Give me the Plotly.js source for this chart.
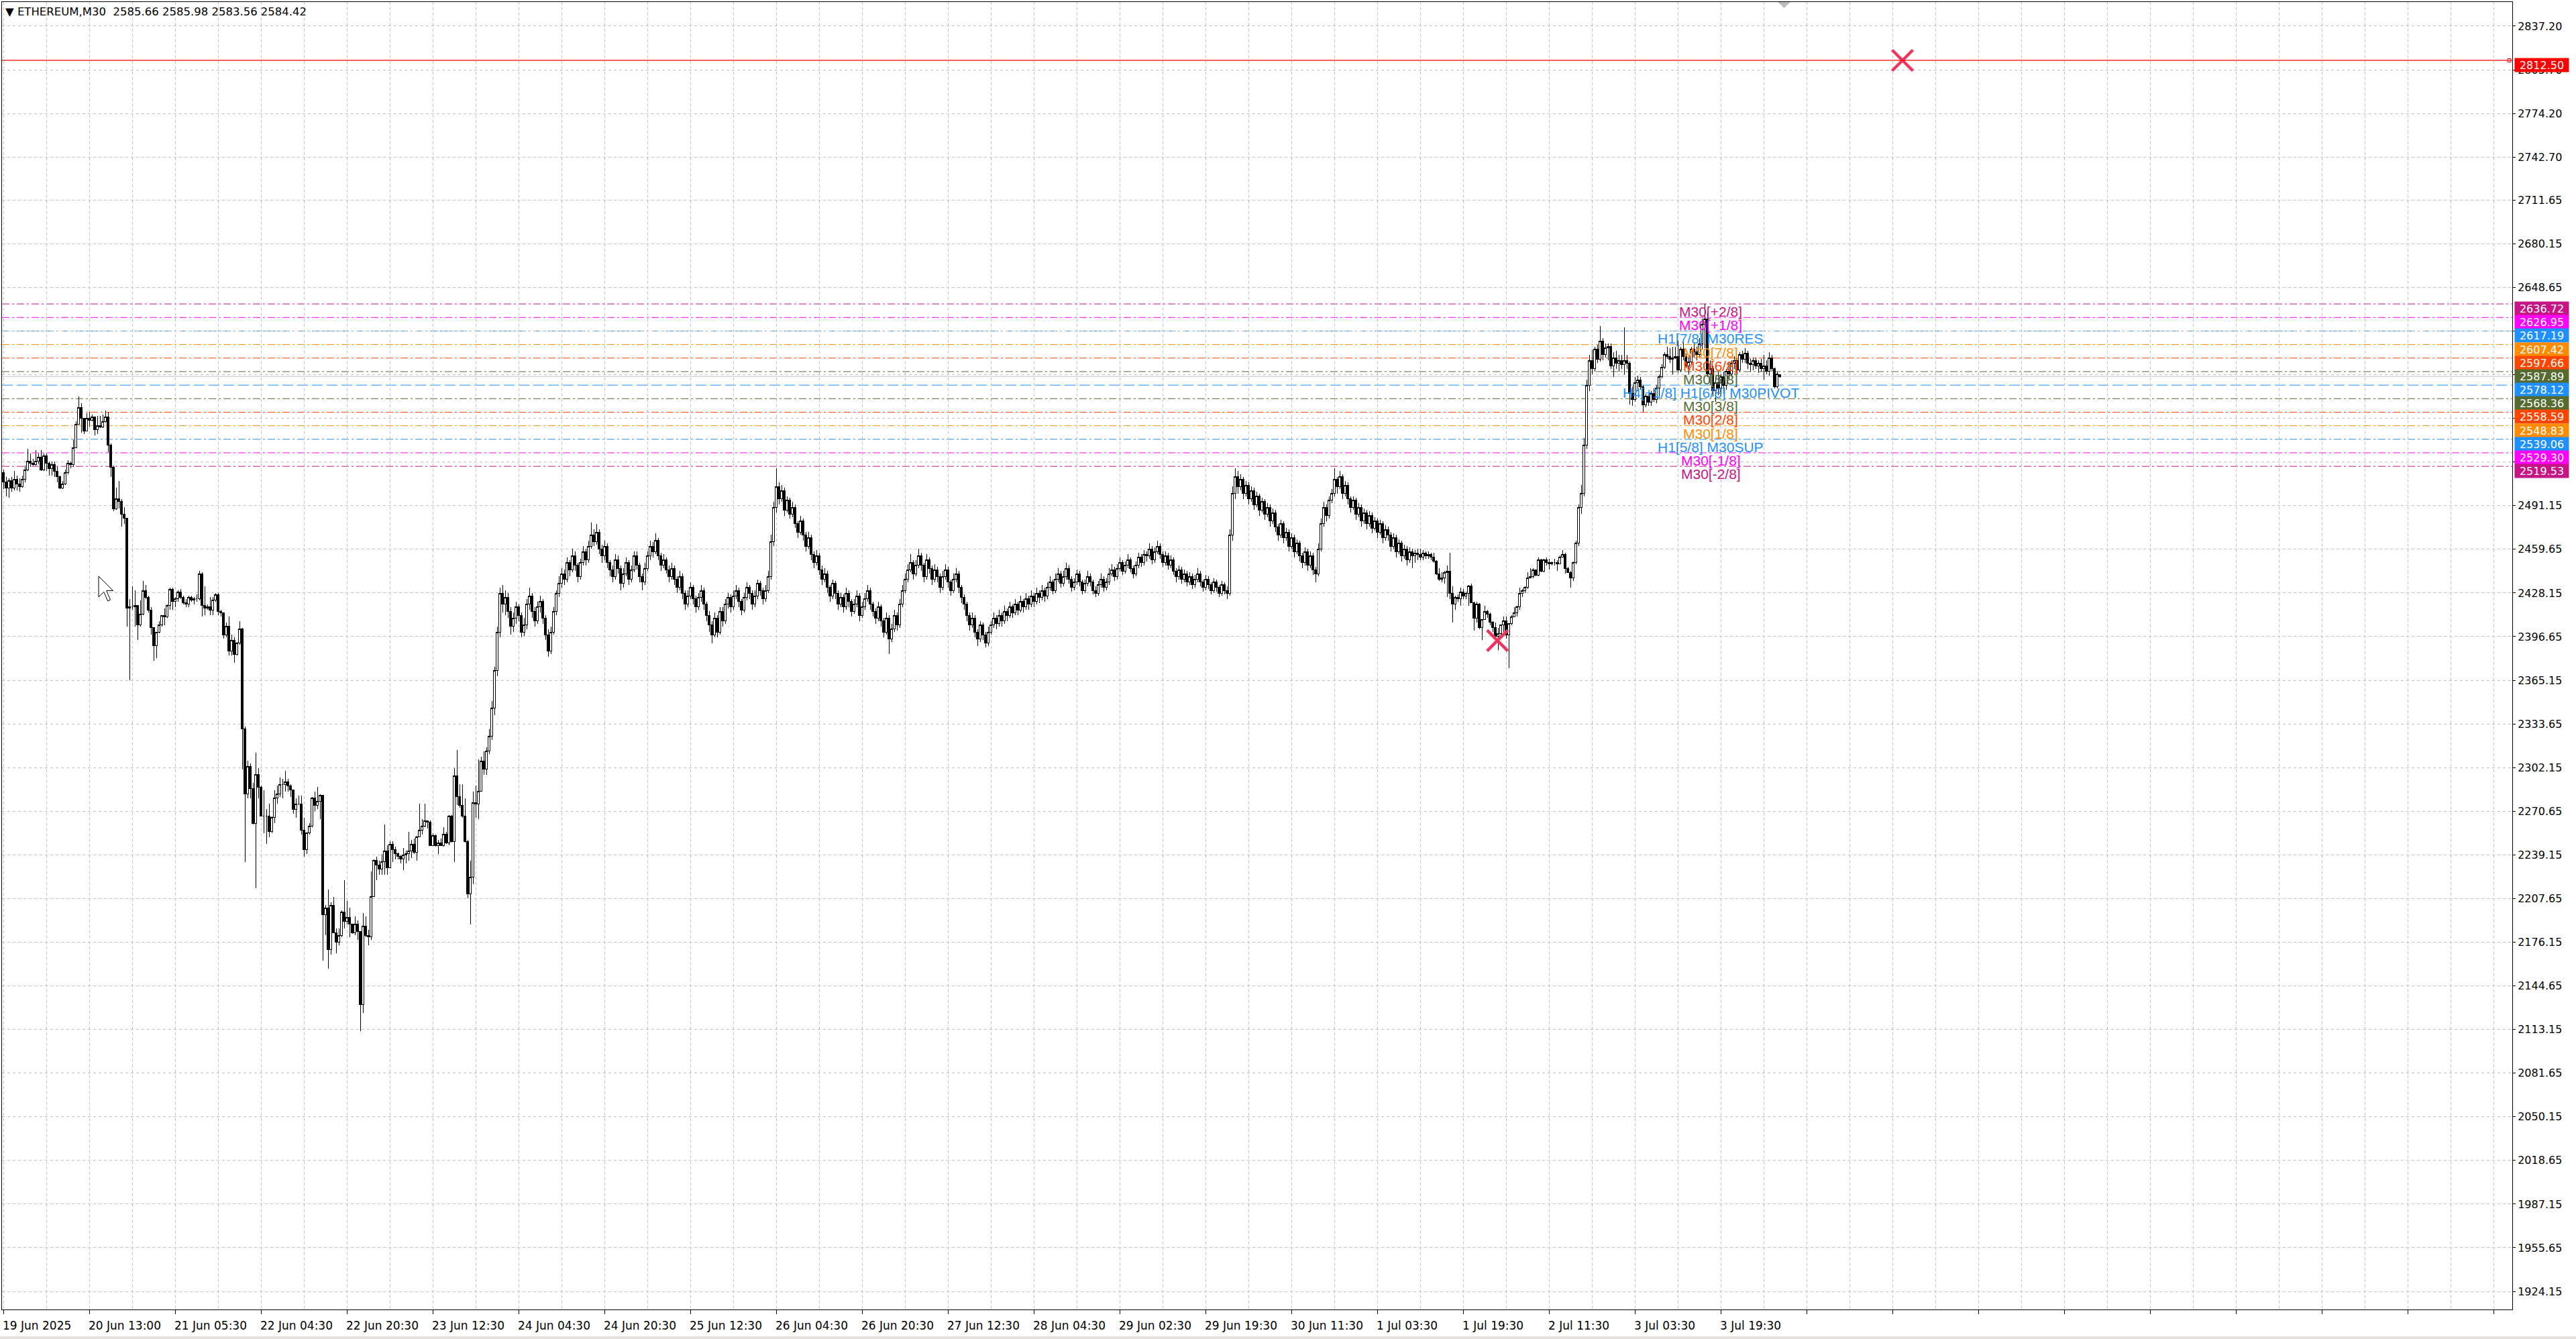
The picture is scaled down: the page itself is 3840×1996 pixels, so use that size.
<!DOCTYPE html>
<html><head><meta charset="utf-8">
<script src="https://cdn.plot.ly/plotly-3.0.1.min.js"></script>
<style>html,body{margin:0;padding:0;background:#fff;}#chart{width:3840px;height:1996px;}
#chart .boxlayer path{shape-rendering:crispEdges;}</style>
</head><body><div id="chart"></div>
<script>
// ===== ETHEREUM M30 candles (bar index = position on the chart) =====
const open = [
2515,2508,2504,2509,2504,2510,2507,2505,2510,2517,2523,2522,2521,2523,2526,2517,2527,2522,2518,2521,
2516,2512,2504,2507,2515,2522,2521,2533,2550,2562,2554,2545,2554,2553,2555,2546,2549,2548,2552,2555,
2535,2519,2489,2496,2494,2485,2482,2417,2418,2418,2419,2405,2413,2430,2425,2416,2403,2390,2400,2405,
2412,2411,2419,2431,2422,2424,2429,2425,2421,2420,2425,2423,2424,2424,2442,2419,2417,2418,2416,2423,
2427,2415,2414,2398,2404,2386,2394,2384,2392,2402,2330,
2283,2303,2287,2262,2297,2288,2267,2267,2267,2256,2266,2280,2283,2290,2290,2292,2289,2286,2272,2276,
2276,2257,2243,2255,2260,2280,2275,2278,2282,2196,2201,2171,2203,2183,2176,2181,2198,2191,2194,2189,
2183,2189,2184,2131,2188,2181,2180,2209,2235,2232,2229,2234,2242,2230,2247,2243,2240,2238,2236,2239,
2240,2242,2247,2241,2252,2257,2260,2264,2263,2246,2253,2246,2248,2246,2254,2248,2267,2249,2296,2281,
2275,2267,2249,2211,2223,2277,2276,2285,2307,2301,2314,
2325,2345,2372,2400,2428,2420,2425,2415,2404,2410,2418,2412,2400,2405,2420,2426,2415,2408,2418,2422,
2410,2398,2386,2400,2415,2428,2435,2442,2438,2450,2445,2455,2448,2440,2450,2458,2452,2462,2470,2465,
2472,2460,2455,2462,2450,2445,2440,2452,2446,2435,2442,2450,2438,2445,2455,2448,2440,2436,2446,2455,
2462,2458,2466,2455,2448,2452,2445,2440,2446,2438,2432,2440,2428,2420,2426,2432,2424,2418,2425,2430,
2420,2412,2405,2398,2410,2400,2415,2408,2420,2425,2418,2426,2430,2422,2416,2425,2432,2428,2420,2426,
2435,2430,2424,2430,2440,2465,2490,2505,2496,2502,2488,2495,2485,2490,2478,2472,2480,2470,2462,2468,
2456,2450,2455,2445,2438,2442,2432,2426,2435,2428,2420,2425,2418,2428,2422,2415,2420,2426,2412,2418,
2424,2430,2420,2415,2410,2418,2408,2400,2410,2395,2402,2412,2405,2420,2430,2438,2445,2450,2442,2448,
2455,2448,2440,2452,2446,2438,2445,2440,2432,2440,2445,2436,2430,2438,2442,2432,2425,2420,2412,2405,
2410,2400,2395,2405,2398,2392,2400,2405,2410,2406,2412,2408,2415,2412,2418,2414,2420,2416,2422,2418,
2424,2420,2426,2422,2428,2425,2430,2426,2432,2436,2430,2438,2442,2435,2440,2446,2438,2432,2436,2442,
2436,2430,2435,2440,2436,2430,2428,2434,2438,2432,2436,2442,2445,2440,2446,2450,2444,2448,2452,2446,
2442,2448,2454,2450,2456,2455,2460,2452,2458,2462,2456,2450,2455,2448,2452,2444,2440,2445,2438,2442,
2436,2440,2434,2438,2442,2436,2432,2438,2434,2430,2436,2432,2428,2434,2430,2428,2470,2500,2512,2505,
2510,2500,2506,2496,2502,2492,2498,2488,2494,2485,2490,2480,2486,2476,2470,2478,2468,2472,2462,2468,
2458,2464,2455,2450,2458,2448,2455,2445,2442,2460,2478,2490,2484,2495,2500,2510,2505,2512,2500,2506,
2496,2490,2495,2485,2490,2480,2486,2478,2484,2475,2480,2472,2478,2468,2474,2470,2462,2468,2458,2464,
2455,2460,2452,
2458,2455,2457,2456,2454,2457,2455,2456,2454,2451,2442,2438,2439,2443,2444,2428,2420,2425,2424,2429,
2426,2428,2433,2421,2410,2420,2403,2409,2415,2413,2407,2403,2397,2399,2405,2408,2398,2406,2411,2414,
2418,2428,2430,2432,2439,2440,2445,2441,2452,2444,2452,2450,2449,2450,2450,2449,2454,2456,2446,2443,
2439,2450,2464,2490,2500,2535,2578,2596,2590,2604,2597,2610,2600,2605,
2606,2592,2598,2594,2596,2593,2596,2594,2572,2568,2580,2582,2577,2564,2570,2566,2572,2568,2576,2584,
2591,2600,2599,2597,2598,2599,2589,2604,2599,2592,2595,2604,2602,2600,2608,2622,2626,2586,2590,2574,
2580,2576,2584,2578,2588,2586,2594,2596,2589,2600,2597,2601,2594,2593,2596,2592,2594,2590,2592,2588,
2598,2590,2577,2585.66];
const high = [
2517,2512,2511,2512,2516,2513,2511,2513,2520,2532,2529,2525,2531,2529,2531,2529,2529,2523,2523,2523,
2519,2513,2509,2517,2524,2523,2539,2552,2570,2565,2554,2558,2559,2557,2555,2556,2556,2557,2560,2559,
2536,2520,2504,2509,2496,2490,2482,2424,2433,2430,2419,2423,2437,2434,2426,2418,2403,2400,2408,2412,
2417,2420,2432,2432,2425,2430,2431,2426,2424,2426,2426,2425,2427,2444,2443,2433,2420,2425,2425,2428,
2428,2416,2414,2407,2411,2398,2396,2393,2408,2403,2332,
2307,2305,2291,2313,2302,2289,2286,2272,2276,2267,2286,2289,2295,2294,2300,2294,2290,2286,2280,2282,
2282,2266,2255,2262,2281,2285,2288,2283,2282,2203,2214,2205,2209,2186,2186,2199,2221,2206,2201,2189,
2195,2192,2184,2197,2195,2185,2227,2236,2238,2235,2240,2261,2246,2249,2249,2245,2241,2239,2244,2242,
2256,2250,2251,2253,2276,2265,2276,2264,2264,2255,2254,2250,2251,2259,2256,2268,2268,2302,2315,2290,
2290,2280,2250,2235,2285,2289,2308,2310,2314,2317,2330,
2350,2375,2404,2432,2434,2430,2428,2418,2414,2422,2420,2414,2410,2424,2432,2428,2418,2422,2426,2424,
2412,2402,2404,2418,2430,2440,2446,2445,2454,2452,2460,2458,2450,2453,2462,2460,2466,2479,2474,2478,
2474,2463,2466,2464,2452,2448,2456,2455,2448,2446,2454,2452,2448,2458,2458,2450,2442,2450,2458,2466,
2465,2471,2468,2457,2456,2454,2448,2450,2448,2440,2444,2442,2430,2430,2436,2434,2426,2428,2434,2432,
2422,2415,2408,2414,2412,2418,2418,2424,2428,2427,2430,2434,2432,2424,2428,2436,2434,2430,2430,2438,
2437,2432,2434,2444,2470,2494,2518,2508,2506,2504,2498,2497,2494,2492,2480,2484,2482,2472,2472,2470,
2458,2459,2457,2448,2446,2444,2434,2438,2437,2430,2428,2427,2432,2430,2424,2424,2430,2428,2422,2428,
2434,2432,2422,2417,2422,2420,2410,2414,2412,2406,2416,2414,2424,2434,2442,2449,2456,2452,2452,2460,
2457,2450,2456,2454,2448,2449,2447,2442,2444,2449,2447,2438,2442,2446,2444,2434,2427,2422,2414,2414,
2412,2402,2408,2407,2400,2404,2408,2414,2412,2416,2414,2419,2417,2422,2420,2424,2422,2426,2424,2428,
2426,2430,2428,2432,2430,2434,2432,2436,2440,2438,2442,2446,2444,2444,2450,2448,2440,2439,2445,2444,
2438,2438,2444,2442,2438,2433,2437,2442,2440,2439,2446,2449,2447,2449,2454,2452,2451,2456,2454,2448,
2451,2457,2456,2459,2458,2464,2462,2461,2466,2464,2458,2458,2457,2455,2454,2446,2448,2447,2445,2444,
2443,2442,2441,2446,2444,2438,2441,2440,2436,2439,2438,2434,2437,2436,2433,2474,2505,2518,2516,2514,
2512,2509,2508,2505,2504,2501,2500,2497,2496,2493,2492,2489,2488,2478,2481,2480,2475,2474,2471,2470,
2467,2466,2457,2461,2460,2458,2457,2447,2464,2482,2494,2492,2498,2503,2518,2512,2516,2514,2509,2508,
2498,2498,2497,2493,2492,2489,2488,2487,2486,2483,2482,2481,2480,2477,2476,2472,2471,2470,2467,2466,
2463,2462,2461,
2460,2459,2460,2460,2459,2458,2458,2457,2457,2452,2446,2443,2444,2448,2457,2433,2426,2427,2432,2431,
2429,2434,2435,2422,2422,2421,2409,2419,2416,2414,2408,2407,2403,2405,2411,2411,2406,2412,2418,2419,
2432,2431,2433,2443,2446,2446,2445,2454,2453,2453,2454,2453,2451,2453,2452,2455,2459,2457,2447,2444,
2451,2466,2492,2506,2540,2582,2600,2604,2606,2607,2621,2612,2608,2608,
2608,2602,2603,2600,2600,2620,2600,2595,2577,2584,2585,2584,2578,2572,2572,2574,2576,2578,2586,2593,
2602,2606,2605,2606,2606,2610,2606,2609,2601,2598,2606,2608,2606,2612,2626,2637,2630,2596,2592,2584,
2588,2586,2588,2590,2594,2596,2599,2598,2602,2603,2605,2603,2597,2598,2598,2596,2597,2600,2596,2602,
2600,2591,2588,2585.98];
const low = [
2503,2498,2497,2501,2502,2502,2501,2504,2508,2516,2519,2520,2520,2521,2516,2516,2516,2513,2513,2512,
2508,2503,2503,2506,2514,2518,2519,2533,2550,2544,2543,2545,2548,2552,2542,2543,2547,2547,2551,2530,
2512,2487,2488,2489,2476,2478,2404,2365,2416,2404,2394,2404,2412,2424,2414,2398,2379,2381,2399,2404,
2405,2410,2416,2416,2418,2422,2424,2420,2418,2418,2422,2420,2422,2423,2411,2412,2416,2412,2412,2422,
2412,2411,2395,2396,2383,2383,2378,2383,2391,2301,2234,
2280,2280,2261,2215,2280,2267,2255,2247,2252,2255,2262,2276,2281,2280,2285,2285,2281,2269,2266,2275,
2254,2238,2240,2254,2259,2271,2272,2265,2163,2181,2157,2167,2183,2168,2174,2180,2186,2189,2180,2182,
2181,2178,2112,2125,2180,2174,2178,2209,2221,2225,2225,2225,2225,2230,2234,2236,2236,2233,2228,2233,
2235,2237,2240,2235,2252,2254,2259,2258,2246,2246,2245,2240,2246,2245,2247,2246,2248,2234,2275,2273,
2266,2248,2208,2189,2218,2266,2265,2285,2297,2297,2312,
2322,2340,2368,2396,2414,2412,2410,2398,2400,2406,2408,2396,2397,2402,2416,2410,2404,2406,2414,2406,
2394,2382,2384,2398,2412,2425,2432,2434,2436,2440,2443,2444,2436,2438,2448,2448,2450,2460,2462,2463,
2456,2450,2452,2446,2440,2436,2438,2442,2430,2432,2440,2434,2436,2443,2445,2436,2430,2434,2444,2452,
2454,2456,2452,2444,2446,2442,2436,2438,2434,2428,2430,2424,2416,2418,2424,2420,2414,2416,2422,2416,
2408,2400,2392,2396,2396,2398,2404,2406,2417,2414,2416,2424,2418,2412,2414,2423,2424,2416,2418,2424,
2426,2420,2422,2428,2438,2462,2486,2492,2494,2484,2486,2482,2483,2475,2468,2470,2466,2458,2460,2452,
2446,2448,2441,2434,2436,2428,2422,2424,2424,2416,2418,2414,2416,2418,2411,2413,2418,2408,2410,2416,
2422,2416,2411,2406,2408,2404,2396,2398,2384,2393,2400,2401,2403,2418,2428,2436,2443,2438,2440,2446,
2444,2436,2438,2442,2434,2436,2436,2428,2430,2438,2432,2426,2428,2436,2428,2421,2416,2408,2401,2403,
2396,2390,2393,2394,2389,2390,2398,2403,2402,2404,2404,2406,2408,2410,2410,2412,2412,2414,2414,2416,
2416,2418,2418,2420,2421,2423,2422,2424,2430,2427,2428,2436,2432,2433,2438,2435,2429,2430,2434,2433,
2427,2428,2433,2433,2427,2425,2426,2432,2429,2430,2434,2440,2437,2438,2444,2441,2442,2446,2443,2439,
2440,2446,2447,2448,2451,2453,2449,2450,2456,2453,2447,2448,2445,2446,2441,2436,2438,2435,2436,2433,
2434,2431,2432,2436,2433,2429,2430,2431,2427,2428,2429,2425,2426,2427,2424,2426,2466,2496,2500,2502,
2496,2498,2492,2494,2488,2490,2484,2486,2481,2483,2476,2478,2472,2466,2468,2464,2466,2458,2460,2454,
2456,2451,2446,2448,2444,2446,2441,2436,2440,2458,2476,2480,2482,2493,2498,2500,2503,2496,2498,2492,
2486,2488,2481,2483,2476,2478,2474,2476,2471,2473,2468,2470,2464,2466,2466,2458,2460,2454,2456,2451,
2453,2448,2450,
2446,2450,2452,2452,2452,2453,2453,2452,2450,2441,2437,2436,2435,2425,2424,2407,2416,2422,2419,2424,
2424,2419,2421,2401,2407,2402,2394,2409,2410,2405,2400,2394,2387,2396,2400,2395,2374,2405,2411,2411,
2416,2425,2428,2431,2439,2439,2440,2440,2443,2443,2448,2445,2448,2448,2444,2449,2454,2442,2443,2432,
2437,2449,2462,2485,2498,2532,2574,2586,2588,2594,2595,2596,2598,2596,
2590,2584,2590,2588,2590,2586,2590,2564,2563,2566,2574,2575,2559,2562,2563,2563,2566,2565,2570,2583,
2590,2597,2594,2586,2597,2587,2588,2596,2591,2586,2593,2598,2596,2598,2604,2605,2584,2578,2570,2566,
2571,2572,2572,2575,2582,2584,2590,2586,2588,2594,2594,2590,2588,2589,2590,2587,2588,2582,2586,2585,
2588,2576,2576,2583.56];
const close = [
2508,2504,2509,2504,2510,2507,2505,2510,2517,2523,2522,2521,2523,2526,2517,2527,2522,2518,2521,2516,
2512,2504,2507,2515,2522,2521,2533,2550,2562,2554,2545,2554,2553,2555,2546,2549,2548,2552,2555,2535,
2519,2489,2496,2494,2485,2482,2417,2418,2418,2419,2405,2413,2430,2425,2416,2403,2390,2400,2405,2412,
2411,2419,2431,2422,2424,2429,2425,2421,2420,2425,2423,2424,2424,2442,2419,2417,2418,2416,2423,2427,
2415,2414,2398,2404,2386,2394,2384,2392,2402,2330,2283,
2303,2287,2262,2297,2288,2267,2267,2267,2256,2266,2280,2283,2290,2290,2292,2289,2286,2272,2276,2276,
2257,2243,2255,2260,2280,2275,2278,2282,2196,2201,2171,2203,2183,2176,2181,2198,2191,2194,2189,2183,
2189,2184,2131,2188,2181,2180,2209,2235,2232,2229,2234,2242,2230,2247,2243,2240,2238,2236,2239,2240,
2242,2247,2241,2252,2257,2260,2264,2263,2246,2253,2246,2248,2246,2254,2248,2267,2249,2296,2281,2275,
2267,2249,2211,2223,2277,2276,2285,2307,2301,2314,2325,
2345,2372,2400,2428,2420,2425,2415,2404,2410,2418,2412,2400,2405,2420,2426,2415,2408,2418,2422,2410,
2398,2386,2400,2415,2428,2435,2442,2438,2450,2445,2455,2448,2440,2450,2458,2452,2462,2470,2465,2472,
2460,2455,2462,2450,2445,2440,2452,2446,2435,2442,2450,2438,2445,2455,2448,2440,2436,2446,2455,2462,
2458,2466,2455,2448,2452,2445,2440,2446,2438,2432,2440,2428,2420,2426,2432,2424,2418,2425,2430,2420,
2412,2405,2398,2410,2400,2415,2408,2420,2425,2418,2426,2430,2422,2416,2425,2432,2428,2420,2426,2435,
2430,2424,2430,2440,2465,2490,2505,2496,2502,2488,2495,2485,2490,2478,2472,2480,2470,2462,2468,2456,
2450,2455,2445,2438,2442,2432,2426,2435,2428,2420,2425,2418,2428,2422,2415,2420,2426,2412,2418,2424,
2430,2420,2415,2410,2418,2408,2400,2410,2395,2402,2412,2405,2420,2430,2438,2445,2450,2442,2448,2455,
2448,2440,2452,2446,2438,2445,2440,2432,2440,2445,2436,2430,2438,2442,2432,2425,2420,2412,2405,2410,
2400,2395,2405,2398,2392,2400,2405,2410,2406,2412,2408,2415,2412,2418,2414,2420,2416,2422,2418,2424,
2420,2426,2422,2428,2425,2430,2426,2432,2436,2430,2438,2442,2435,2440,2446,2438,2432,2436,2442,2436,
2430,2435,2440,2436,2430,2428,2434,2438,2432,2436,2442,2445,2440,2446,2450,2444,2448,2452,2446,2442,
2448,2454,2450,2456,2455,2460,2452,2458,2462,2456,2450,2455,2448,2452,2444,2440,2445,2438,2442,2436,
2440,2434,2438,2442,2436,2432,2438,2434,2430,2436,2432,2428,2434,2430,2428,2470,2500,2512,2505,2510,
2500,2506,2496,2502,2492,2498,2488,2494,2485,2490,2480,2486,2476,2470,2478,2468,2472,2462,2468,2458,
2464,2455,2450,2458,2448,2455,2445,2442,2460,2478,2490,2484,2495,2500,2510,2505,2512,2500,2506,2496,
2490,2495,2485,2490,2480,2486,2478,2484,2475,2480,2472,2478,2468,2474,2470,2462,2468,2458,2464,2455,
2460,2452,2458,
2455,2457,2456,2454,2457,2455,2456,2454,2451,2442,2438,2439,2443,2444,2428,2420,2425,2424,2429,2426,
2428,2433,2421,2410,2420,2403,2409,2415,2413,2407,2403,2397,2399,2405,2408,2398,2406,2411,2414,2418,
2428,2430,2432,2439,2440,2445,2441,2452,2444,2452,2450,2449,2450,2450,2449,2454,2456,2446,2443,2439,
2450,2464,2490,2500,2535,2578,2596,2590,2604,2597,2610,2600,2605,2606,
2592,2598,2594,2596,2593,2596,2594,2572,2568,2580,2582,2577,2564,2570,2566,2572,2568,2576,2584,2591,
2600,2599,2597,2598,2599,2589,2604,2599,2592,2595,2604,2602,2600,2608,2622,2626,2586,2590,2574,2580,
2576,2584,2578,2588,2586,2594,2596,2589,2600,2597,2601,2594,2593,2596,2592,2594,2590,2592,2588,2598,
2590,2577,2586,2584.42];

// ===== Murrey-math style levels =====
const levelPrices = [2636.72, 2626.95, 2617.19, 2607.42, 2597.66, 2587.89, 2578.12, 2568.36, 2558.59, 2548.83, 2539.06, 2529.30, 2519.53];
const levelNames  = ["M30[+2/8]", "M30[+1/8]", "H1[7/8] M30RES", "M30[7/8]", "M30[6/8]", "M30[5/8]", "H4[+1/8] H1[6/8] M30PIVOT", "M30[3/8]", "M30[2/8]", "M30[1/8]", "H1[5/8] M30SUP", "M30[-1/8]", "M30[-2/8]"];
const levelColors = ["#C71585", "#FF00FF", "#1E90FF", "#FF8C00", "#FF4500", "#556B2F", "#1E90FF", "#556B2F", "#FF4500", "#FF8C00", "#1E90FF", "#FF00FF", "#C71585"];
const levelDash   = ["dd", "dd", "dd", "dd", "dd", "dd", "dash", "dd", "dd", "dd", "dd", "dd", "dd"];
const levelLabelBar = 636.25;

// ===== other objects =====
const redLinePrice = 2812.50;
const bidPrice = 2584.42;
const crossBars = [707.75, 556.8];
const crossPrices = [2812.5, 2393.8];

// ===== axes =====
const priceTicks = [2837.20, 2805.70, 2774.20, 2742.70, 2711.65, 2680.15, 2648.65, 2617.15, 2585.65, 2554.15, 2522.65,
  2491.15, 2459.65, 2428.15, 2396.65, 2365.15, 2333.65, 2302.15, 2270.65, 2239.15, 2207.65, 2176.15, 2144.65,
  2113.15, 2081.65, 2050.15, 2018.65, 1987.15, 1955.65, 1924.15];
const timeLabels = ["19 Jun 2025", "20 Jun 13:00", "21 Jun 05:30", "22 Jun 04:30", "22 Jun 20:30", "23 Jun 12:30",
  "24 Jun 04:30", "24 Jun 20:30", "25 Jun 12:30", "26 Jun 04:30", "26 Jun 20:30", "27 Jun 12:30", "28 Jun 04:30",
  "29 Jun 02:30", "29 Jun 19:30", "30 Jun 11:30", "1 Jul 03:30", "1 Jul 19:30", "2 Jul 11:30", "3 Jul 03:30", "3 Jul 19:30"];
const timeLabelBars = [0, 32, 64, 96, 128, 160, 192, 224, 256, 288, 320, 352, 384, 416, 448, 480, 512, 544, 576, 608, 640];
const headerText = "\u25BC\u00A0ETHEREUM,M30\u00A0\u00A0" + [open[open.length-1], high[high.length-1], low[low.length-1], close[close.length-1]].map(v => v.toFixed(2)).join(" ");

const xRange = [-0.5, 935];
const yRange = [1911.1, 2854.6];

// geometry (pixels)
const W = 3840, H = 1996, ML = 3, MR = 95, MT = 3, MB = 44;
const PW = W - ML - MR, PH = H - MT - MB;
const xp = px => (px - ML) / PW;
const yp = py => 1 - (py - MT) / PH;

const FONT = "DejaVu Sans, Verdana, sans-serif";
const GRID = "#C0C0C0";

const bars = close.map((_, i) => i);

const traces = [
  {
    type: "candlestick", x: bars, open: open, high: high, low: low, close: close,
    increasing: {line: {color: "#000000", width: 1}, fillcolor: "#FFFFFF"},
    decreasing: {line: {color: "#000000", width: 1}, fillcolor: "#000000"},
    whiskerwidth: 0, hoverinfo: "skip", showlegend: false
  },
  {
    type: "scatter", mode: "markers", x: crossBars, y: crossPrices, hoverinfo: "skip", showlegend: false,
    marker: {symbol: "x-thin", size: 31, color: "#F0345E", line: {color: "#F0345E", width: 4.5}}
  },
  {
    type: "scatter", mode: "markers", x: [xRange[1] - 1.1], y: [redLinePrice], hoverinfo: "skip", showlegend: false,
    marker: {symbol: "square-open", size: 5, color: "#FF0000", line: {color: "#FF0000", width: 1}}
  }
];

const shapes = [];
levelPrices.forEach((p, i) => {
  shapes.push({type: "line", xref: "paper", x0: 0, x1: 1, yref: "y", y0: p, y1: p, layer: "below",
    line: {color: levelColors[i], width: 1, dash: levelDash[i] === "dash" ? "16px,6px" : "11px,4px,3px,4px"}});
});
shapes.push({type: "line", xref: "paper", x0: 0, x1: 1, yref: "y", y0: bidPrice, y1: bidPrice, layer: "below",
  line: {color: "#C0C0C0", width: 1}});
shapes.push({type: "line", xref: "paper", x0: 0, x1: 1, yref: "y", y0: redLinePrice, y1: redLinePrice, layer: "above",
  line: {color: "#FF0000", width: 1.2}});
// chart-shift triangle at top
shapes.push({type: "path", xref: "paper", yref: "paper", layer: "above", fillcolor: "#BDBDBD", line: {width: 0},
  path: `M ${xp(2650)},${yp(3)} L ${xp(2669)},${yp(3)} L ${xp(2659.5)},${yp(12)} Z`});
// mouse cursor
const cur = [[0,0],[0,31],[7.8,23.4],[13.7,37],[17.6,35.1],[11.7,21.5],[21.5,21.5]];
shapes.push({type: "path", xref: "paper", yref: "paper", layer: "above", fillcolor: "#FFFFFF", line: {color: "#000000", width: 1},
  path: "M " + cur.map(c => `${xp(147 + c[0])},${yp(859 + c[1])}`).join(" L ") + " Z"});
// window bottom strip
shapes.push({type: "rect", xref: "paper", yref: "paper", layer: "above", fillcolor: "#E4E0E0", line: {width: 0},
  x0: xp(0), x1: xp(W), y0: yp(1992), y1: yp(H)});

const annotations = [];
levelPrices.forEach((p, i) => {
  annotations.push({xref: "x", yref: "y", x: levelLabelBar, y: p, text: levelNames[i], showarrow: false,
    xanchor: "center", yanchor: "top", borderpad: 0, yshift: 1,
    font: {family: "Liberation Sans, Arial, sans-serif", size: 21, color: levelColors[i]}});
});
const boxes = levelPrices.map((p, i) => ({p: p, c: levelColors[i]})).concat([{p: redLinePrice, c: "#FF0000"}]);
boxes.forEach(b => {
  annotations.push({xref: "paper", yref: "y", x: 1, y: b.p, xanchor: "left", yanchor: "middle", xshift: 3, yshift: -7,
    text: b.p.toFixed(2), showarrow: false, bgcolor: b.c, width: 78, height: 18, borderpad: 1, align: "center",
    font: {family: FONT, size: 16, color: "#FFFFFF"}});
});
timeLabels.forEach((t, i) => {
  annotations.push({xref: "x", yref: "paper", x: timeLabelBars[i], y: 0, text: t, showarrow: false,
    xanchor: "left", yanchor: "top", xshift: -3, yshift: -12, font: {family: FONT, size: 17, color: "#000000"}});
});
annotations.push({xref: "paper", yref: "paper", x: 0, y: 1, xanchor: "left", yanchor: "top", xshift: 3, yshift: -3,
  text: headerText, showarrow: false, font: {family: FONT, size: 16.5, color: "#000000"}});

const layout = {
  width: W, height: H, margin: {l: ML, r: MR, t: MT, b: MB, pad: 0},
  paper_bgcolor: "#FFFFFF", plot_bgcolor: "#FFFFFF", showlegend: false,
  boxgap: 0.25, boxgroupgap: 0.25,
  xaxis: {
    range: xRange, type: "linear", tickmode: "linear", tick0: 0, dtick: 32,
    showticklabels: false, ticks: "outside", ticklen: 6, tickcolor: "#000000", tickwidth: 1,
    showgrid: true, gridcolor: GRID, griddash: "4px,4px", gridwidth: 1,
    minor: {tick0: 0, dtick: 16, showgrid: true, gridcolor: GRID, griddash: "4px,4px", ticks: ""},
    showline: true, linecolor: "#000000", linewidth: 1, mirror: true, zeroline: false,
    rangeslider: {visible: false}, fixedrange: true
  },
  yaxis: {
    range: yRange, side: "right", tickmode: "array", tickvals: priceTicks, ticktext: priceTicks.map(v => v.toFixed(2)),
    ticks: "outside", ticklen: 4, tickcolor: "#000000", ticklabelstandoff: 0,
    tickfont: {family: FONT, size: 16, color: "#000000"},
    showgrid: true, gridcolor: GRID, griddash: "4px,4px", gridwidth: 1,
    showline: true, linecolor: "#000000", linewidth: 1, mirror: true, zeroline: false, fixedrange: true
  },
  shapes: shapes, annotations: annotations
};

Plotly.newPlot("chart", traces, layout, {staticPlot: true, displayModeBar: false});
</script>
</body></html>
